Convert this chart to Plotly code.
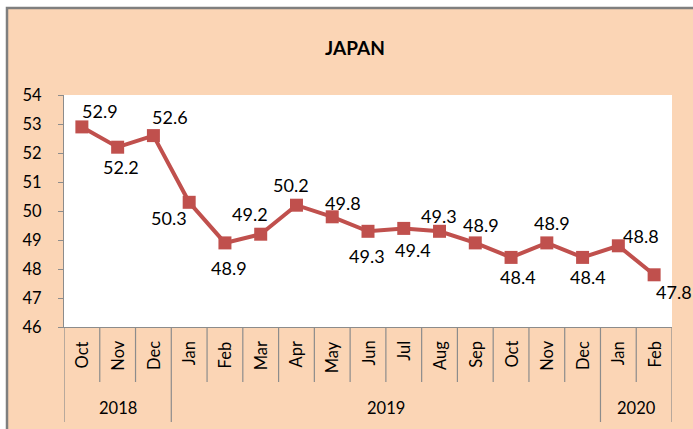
import plotly.graph_objects as go

# data
months = ["Oct", "Nov", "Dec", "Jan", "Feb", "Mar", "Apr", "May", "Jun",
          "Jul", "Aug", "Sep", "Oct", "Nov", "Dec", "Jan", "Feb"]
years = ["2018"] * 3 + ["2019"] * 12 + ["2020"] * 2
values = [52.9, 52.2, 52.6, 50.3, 48.9, 49.2, 50.2, 49.8, 49.3,
          49.4, 49.3, 48.9, 48.4, 48.9, 48.4, 48.8, 47.8]
# label offset from the marker, in pixels (dx, dy with dy up)
label_dx = [18, 3, 17, -20, 4, -11, -5, 11, -1, 9, -1, 6, 7, 5, 5, 23, 20]
label_dy = [16, -20, 19, -16, -25, 20, 20, 14, -25, -22, 15, 18, -20, 20, -20, 10, -17]

FONT = "Lato"
PEACH = "#FBD5B5"
RED = "#C0504D"
GREY = "#8C8C8C"

x = list(range(len(months)))

fig = go.Figure()
fig.add_trace(go.Scatter(
    x=x, y=values, mode="lines+markers",
    line=dict(color=RED, width=4),
    marker=dict(symbol="square", size=13, color=RED),
    cliponaxis=False, hoverinfo="skip", showlegend=False,
))

# px -> paper helpers (plot area 64..672 x, 95..327 y)
L, R, T, B = 64, 21, 95, 102
W, H = 693, 429
pw, ph = W - L - R, H - T - B


def py(pix):
    return (H - B - pix) / ph


def px_(pix):
    return (pix - L) / pw


shapes = [
    # chart background with grey frame
    dict(type="rect", xref="paper", yref="paper", layer="below",
         x0=px_(7), x1=px_(705), y0=py(440), y1=py(8),
         fillcolor=PEACH, line=dict(color="#7F7F7F", width=2.5)),
    # white plot area
    dict(type="rect", xref="paper", yref="paper", layer="below",
         x0=0, x1=1, y0=0, y1=1, fillcolor="white", line=dict(width=0)),
]

# category separators
bounds = [i - 0.5 for i in range(len(months) + 1)]
year_edges = [-0.5, len(months) - 0.5]
for i in range(1, len(years)):
    if years[i] != years[i - 1]:
        year_edges.append(i - 0.5)
for b in bounds:
    bottom = py(422) if b in year_edges else py(382)
    shapes.append(dict(type="line", xref="x", yref="paper", x0=b, x1=b,
                       y0=0, y1=bottom, line=dict(color=GREY, width=1.2)))

annotations = [dict(text="<b>JAPAN</b>", xref="paper", yref="paper",
                    x=px_(355), y=py(47), xanchor="center", yanchor="middle",
                    showarrow=False,
                    font=dict(family=FONT, size=19, color="#000000"))]

# data labels
for i, v in enumerate(values):
    annotations.append(dict(text=f"{v:.1f}", x=i, y=v, xref="x", yref="y",
                            xshift=label_dx[i], yshift=label_dy[i],
                            xanchor="center", yanchor="middle", showarrow=False,
                            font=dict(family=FONT, size=18, color="#000000")))

for i, m in enumerate(months):
    annotations.append(dict(text=m, xref="x", yref="paper", x=i, y=py(339),
                            textangle=-90, xanchor="center", yanchor="top",
                            showarrow=False,
                            font=dict(family=FONT, size=16.5, color="#000000")))
# year labels
groups = []
start = 0
for i in range(1, len(years) + 1):
    if i == len(years) or years[i] != years[start]:
        groups.append((years[start], start, i - 1))
        start = i
for yr, s, e in groups:
    annotations.append(dict(text=yr, xref="x", yref="paper", x=(s + e) / 2,
                            y=py(408), xanchor="center", yanchor="middle",
                            showarrow=False,
                            font=dict(family=FONT, size=16.5, color="#000000")))

fig.update_layout(
    width=W, height=H,
    margin=dict(l=L, r=R, t=T, b=B),
    paper_bgcolor="white", plot_bgcolor="rgba(0,0,0,0)",
    shapes=shapes, annotations=annotations,
    xaxis=dict(range=[-0.5, len(months) - 0.5], showticklabels=False,
               showgrid=False, zeroline=False, showline=True,
               linecolor=GREY, linewidth=1.2, ticks=""),
    yaxis=dict(range=[46, 54], dtick=1, showgrid=False, zeroline=False,
               showline=True, linecolor=GREY, linewidth=1.2,
               ticks="outside", ticklen=5, tickcolor=GREY,
               ticklabelstandoff=13,
               tickfont=dict(family=FONT, size=16.5, color="#000000")),
)

# drop the default page margin so the figure fills the window
fig.write_html("out.html", config={"displayModeBar": False},
               post_script="document.body.style.margin='0';document.body.style.overflow='hidden';")
